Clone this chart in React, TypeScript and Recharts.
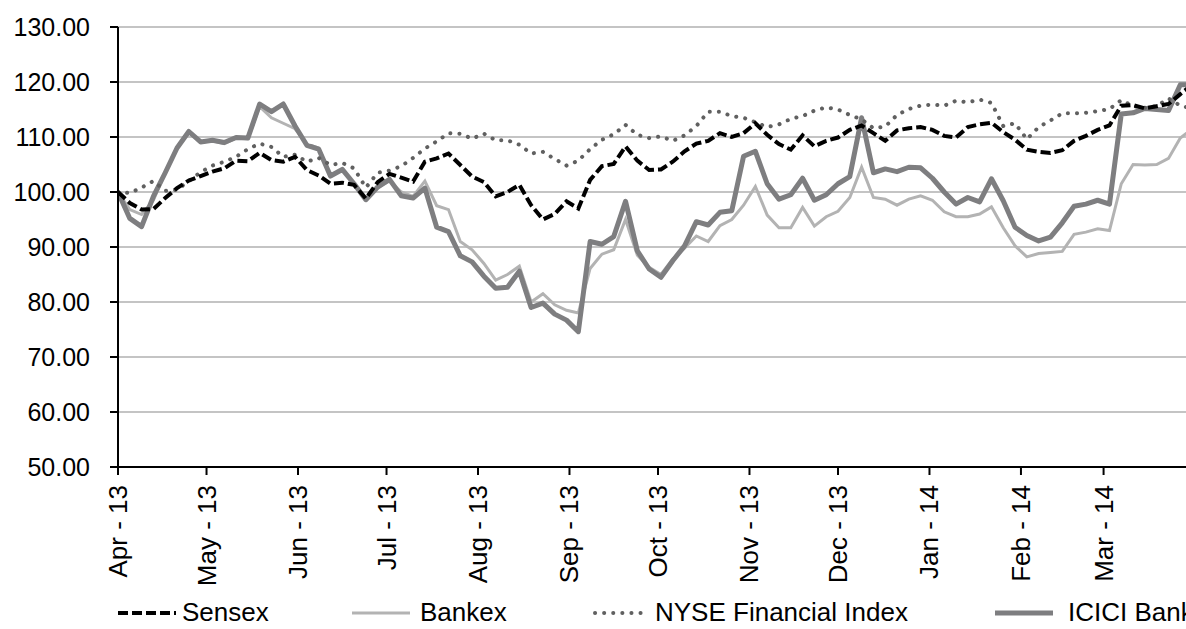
import React from 'react';
import { LineChart, Line, XAxis, YAxis, CartesianGrid, Legend } from 'recharts';

const FONT = '"Liberation Sans", Arial, Helvetica, sans-serif';

// calendar days since 1 Apr 2013
const days = [
  0, 4, 8, 12, 16, 20, 24, 28, 32, 36,
  40, 44, 48, 52, 56, 60, 64, 68, 72, 76,
  80, 84, 88, 92, 96, 100, 104, 108, 112, 116,
  120, 124, 128, 132, 136, 140, 144, 148, 152, 156,
  160, 164, 168, 172, 176, 180, 184, 188, 192, 196,
  200, 204, 208, 212, 216, 220, 224, 228, 232, 236,
  240, 244, 248, 252, 256, 260, 264, 268, 272, 276,
  280, 284, 288, 292, 296, 300, 304, 308, 312, 316,
  320, 324, 328, 332, 336, 340, 344, 348, 352, 356,
  360, 364,
];

const sensex = [
  100, 98, 96.8, 96.9, 98.9, 100.7, 102.1, 102.9, 103.7, 104.3,
  105.7, 105.6, 107.1, 105.8, 105.5, 106.4, 104, 103, 101.5, 101.7,
  101.3, 98.8, 101.8, 103.3, 102.6, 101.9, 105.5, 106.1, 107, 104.9,
  102.8, 101.8, 99.2, 100, 101.3, 97.6, 95, 96, 98.3, 97,
  102.2, 104.7, 105.1, 108.3, 105.7, 104, 104.1, 105.5, 107.4, 108.8,
  109.3, 110.7, 110, 110.7, 112.5, 110.4, 108.7, 107.7, 110.3, 108.3,
  109.3, 109.9, 111.3, 112.1, 110.7, 109.3, 111.2, 111.6, 111.8, 111.3,
  110.2, 109.9, 111.8, 112.3, 112.6, 110.9, 109.5, 107.7, 107.3, 107.1,
  107.6, 109.3, 110.2, 111.3, 112.1, 115.7, 115.8, 115.2, 115.6, 116,
  117.8, 119.5,
];

const bankex = [
  100, 96.8, 95.9, 98.5, 103.5, 108, 111, 109, 109.3, 108.8,
  109.8, 109.7, 115.5, 113.5, 112.5, 111.5, 108.7, 108, 103, 104,
  101.5, 98.8, 100.8, 102, 100, 99.2, 102, 97.5, 96.8, 91,
  89.5, 87, 84, 85, 86.5, 80, 81.5, 79.5, 78.5, 78,
  86.1, 88.7, 89.5, 95, 88.5, 86.3, 85, 87.8, 89.8, 92,
  91, 93.9, 95, 97.6, 101, 95.8, 93.5, 93.5, 97.2, 93.8,
  95.5, 96.5, 99, 104.5, 99, 98.7, 97.6, 98.7, 99.3, 98.5,
  96.4, 95.5, 95.5, 96, 97.3, 93.5, 90.2, 88.2, 88.8, 89,
  89.2, 92.3, 92.7, 93.3, 93, 101.5, 105, 104.9, 105, 106.1,
  109.8, 111.5,
];

const nyse = [
  100, 99.8, 100.8, 102, 100.2, 100.4, 102, 103.6, 104.8, 105.5,
  106.4, 107.8, 108.8, 108.2, 106.4, 106.8, 105.5, 106.2, 104.9, 105.3,
  104.3, 100.8, 103.5, 103.9, 104.7, 106.2, 107.9, 109.2, 110.7, 110.6,
  109.7, 110.6, 109.4, 109.4, 108.6, 107, 107.3, 106, 104.8, 105.7,
  107.8, 109.5, 110.5, 112.2, 110.4, 109.8, 110.1, 109.3, 110.3, 112,
  114.6, 114.6, 113.8, 113.5, 112.7, 111.8, 112.3, 113.3, 113.8, 114.8,
  115.4, 115, 114, 113.2, 111.6, 111.9, 114, 115.1, 115.7, 115.9,
  115.7, 116.6, 116.3, 116.8, 116.2, 112, 112.5, 109.6, 111.8, 113,
  114.3, 114.3, 114.4, 114.7, 115.1, 116.7, 115.6, 115.3, 115.6, 117,
  115.7, 115.2,
];

const icici = [
  100, 95.2, 93.7, 99.2, 103.5, 108, 111, 109.1, 109.4, 109,
  109.9, 109.8, 116, 114.6, 116, 112, 108.5, 107.8, 102.9, 104.1,
  101.5, 98.6, 100.9, 102.3, 99.3, 98.9, 100.7, 93.6, 92.8, 88.4,
  87.3, 84.7, 82.5, 82.7, 85.6, 79, 79.8, 77.8, 76.7, 74.6,
  91, 90.5, 91.9, 98.3, 89.3, 86, 84.5, 87.5, 90.2, 94.6,
  94, 96.3, 96.6, 106.5, 107.4, 101.5, 98.7, 99.5, 102.5, 98.5,
  99.5, 101.5, 102.8, 113.5, 103.5, 104.2, 103.7, 104.5, 104.4, 102.5,
  100, 97.8, 99, 98.2, 102.4, 98.4, 93.6, 92.1, 91.1, 91.8,
  94.4, 97.4, 97.8, 98.5, 97.8, 114.2, 114.4, 115.2, 115, 114.8,
  119.5, 119.5,
];

const monthTicks = [0, 30, 61, 91, 122, 153, 183, 214, 244, 275, 306, 334];
const monthLabels = [
  'Apr - 13', 'May - 13', 'Jun - 13', 'Jul - 13', 'Aug - 13', 'Sep - 13',
  'Oct - 13', 'Nov - 13', 'Dec - 13', 'Jan - 14', 'Feb - 14', 'Mar - 14',
];
const yTicks = [50, 60, 70, 80, 90, 100, 110, 120, 130];

const seriesNames = ['Sensex', 'Bankex', 'NYSE Financial Index', 'ICICI Bank'];

const data = days.map((d, i) => ({
  day: d,
  sensex: sensex[i],
  bankex: bankex[i],
  nyse: nyse[i],
  icici: icici[i],
}));

const STYLE = {
  sensex: { stroke: '#000000', strokeWidth: 4, strokeDasharray: '10 4', strokeLinecap: 'butt' as const },
  bankex: { stroke: '#b3b3b3', strokeWidth: 3, strokeDasharray: undefined, strokeLinecap: 'butt' as const },
  nyse: { stroke: '#606060', strokeWidth: 4, strokeDasharray: '0.1 9', strokeLinecap: 'round' as const },
  icici: { stroke: '#7e7e80', strokeWidth: 5, strokeDasharray: undefined, strokeLinecap: 'butt' as const },
};

const legendLayout = [
  { key: 'sensex', iconX: 110, textX: 174 },
  { key: 'bankex', iconX: 344, textX: 412 },
  { key: 'nyse', iconX: 584, textX: 647 },
  { key: 'icici', iconX: 987, textX: 1060 },
];

const LEGEND_H = 50;

const XTick = (props: any) => {
  const { x, y, payload } = props;
  const idx = monthTicks.indexOf(payload.value);
  const label = idx >= 0 ? monthLabels[idx] : '';
  return (
    <text
      x={x}
      y={y}
      transform={`rotate(-90, ${x}, ${y})`}
      textAnchor="end"
      dominantBaseline="central"
      fontSize={26}
      fill="#000"
      fontFamily={FONT}
    >
      {label}
    </text>
  );
};

const renderLegend = () => (
  <div style={{ position: 'relative', height: LEGEND_H, fontFamily: FONT, fontSize: 26, color: '#000' }}>
    {legendLayout.map((item, i) => {
      const s = (STYLE as any)[item.key];
      return (
        <React.Fragment key={item.key}>
          <svg
            width={58}
            height={12}
            style={{ position: 'absolute', left: item.iconX, top: 28 }}
          >
            <line
              x1={s.strokeLinecap === 'round' ? 3 : 0}
              y1={6}
              x2={s.strokeLinecap === 'round' ? 55 : 58}
              y2={6}
              stroke={s.stroke}
              strokeWidth={s.strokeWidth}
              strokeDasharray={s.strokeDasharray}
              strokeLinecap={s.strokeLinecap}
            />
          </svg>
          <span
            style={{ position: 'absolute', left: item.textX, top: 19, lineHeight: '28px', whiteSpace: 'nowrap' }}
          >
            {seriesNames[i]}
          </span>
        </React.Fragment>
      );
    })}
  </div>
);

export default function App() {
  return (
    <div
      style={{
        position: 'absolute',
        left: 8,
        top: 8,
        width: 1178,
        height: 621,
        overflow: 'hidden',
        fontFamily: FONT,
      }}
    >
      <LineChart
        width={1190}
        height={621}
        data={data}
        margin={{ top: 19, right: 0, left: 0, bottom: 0 }}
      >
        <CartesianGrid horizontal vertical={false} stroke="#b0b0b0" strokeWidth={1.5} />
        <XAxis
          type="number"
          dataKey="day"
          domain={[0, 366]}
          ticks={monthTicks}
          interval={0}
          allowDataOverflow
          height={112}
          tickSize={8}
          tickMargin={10}
          tick={<XTick />}
          axisLine={{ stroke: '#000', strokeWidth: 2 }}
          tickLine={{ stroke: '#000', strokeWidth: 2 }}
        />
        <YAxis
          type="number"
          domain={[50, 130]}
          ticks={yTicks}
          interval={0}
          width={110}
          tickSize={8}
          tickMargin={20}
          tickFormatter={(v: number) => v.toFixed(2)}
          tick={{ fontSize: 25, fill: '#000', fontFamily: FONT }}
          axisLine={{ stroke: '#000', strokeWidth: 2 }}
          tickLine={{ stroke: '#000', strokeWidth: 2 }}
        />
        <Legend verticalAlign="bottom" height={LEGEND_H} content={renderLegend} />
        <Line
          type="linear"
          dataKey="bankex"
          name={seriesNames[1]}
          dot={false}
          activeDot={false}
          isAnimationActive={false}
          {...STYLE.bankex}
        />
        <Line
          type="linear"
          dataKey="icici"
          name={seriesNames[3]}
          dot={false}
          activeDot={false}
          isAnimationActive={false}
          strokeLinejoin="round"
          {...STYLE.icici}
        />
        <Line
          type="linear"
          dataKey="nyse"
          name={seriesNames[2]}
          dot={false}
          activeDot={false}
          isAnimationActive={false}
          {...STYLE.nyse}
        />
        <Line
          type="linear"
          dataKey="sensex"
          name={seriesNames[0]}
          dot={false}
          activeDot={false}
          isAnimationActive={false}
          {...STYLE.sensex}
        />
      </LineChart>
    </div>
  );
}
